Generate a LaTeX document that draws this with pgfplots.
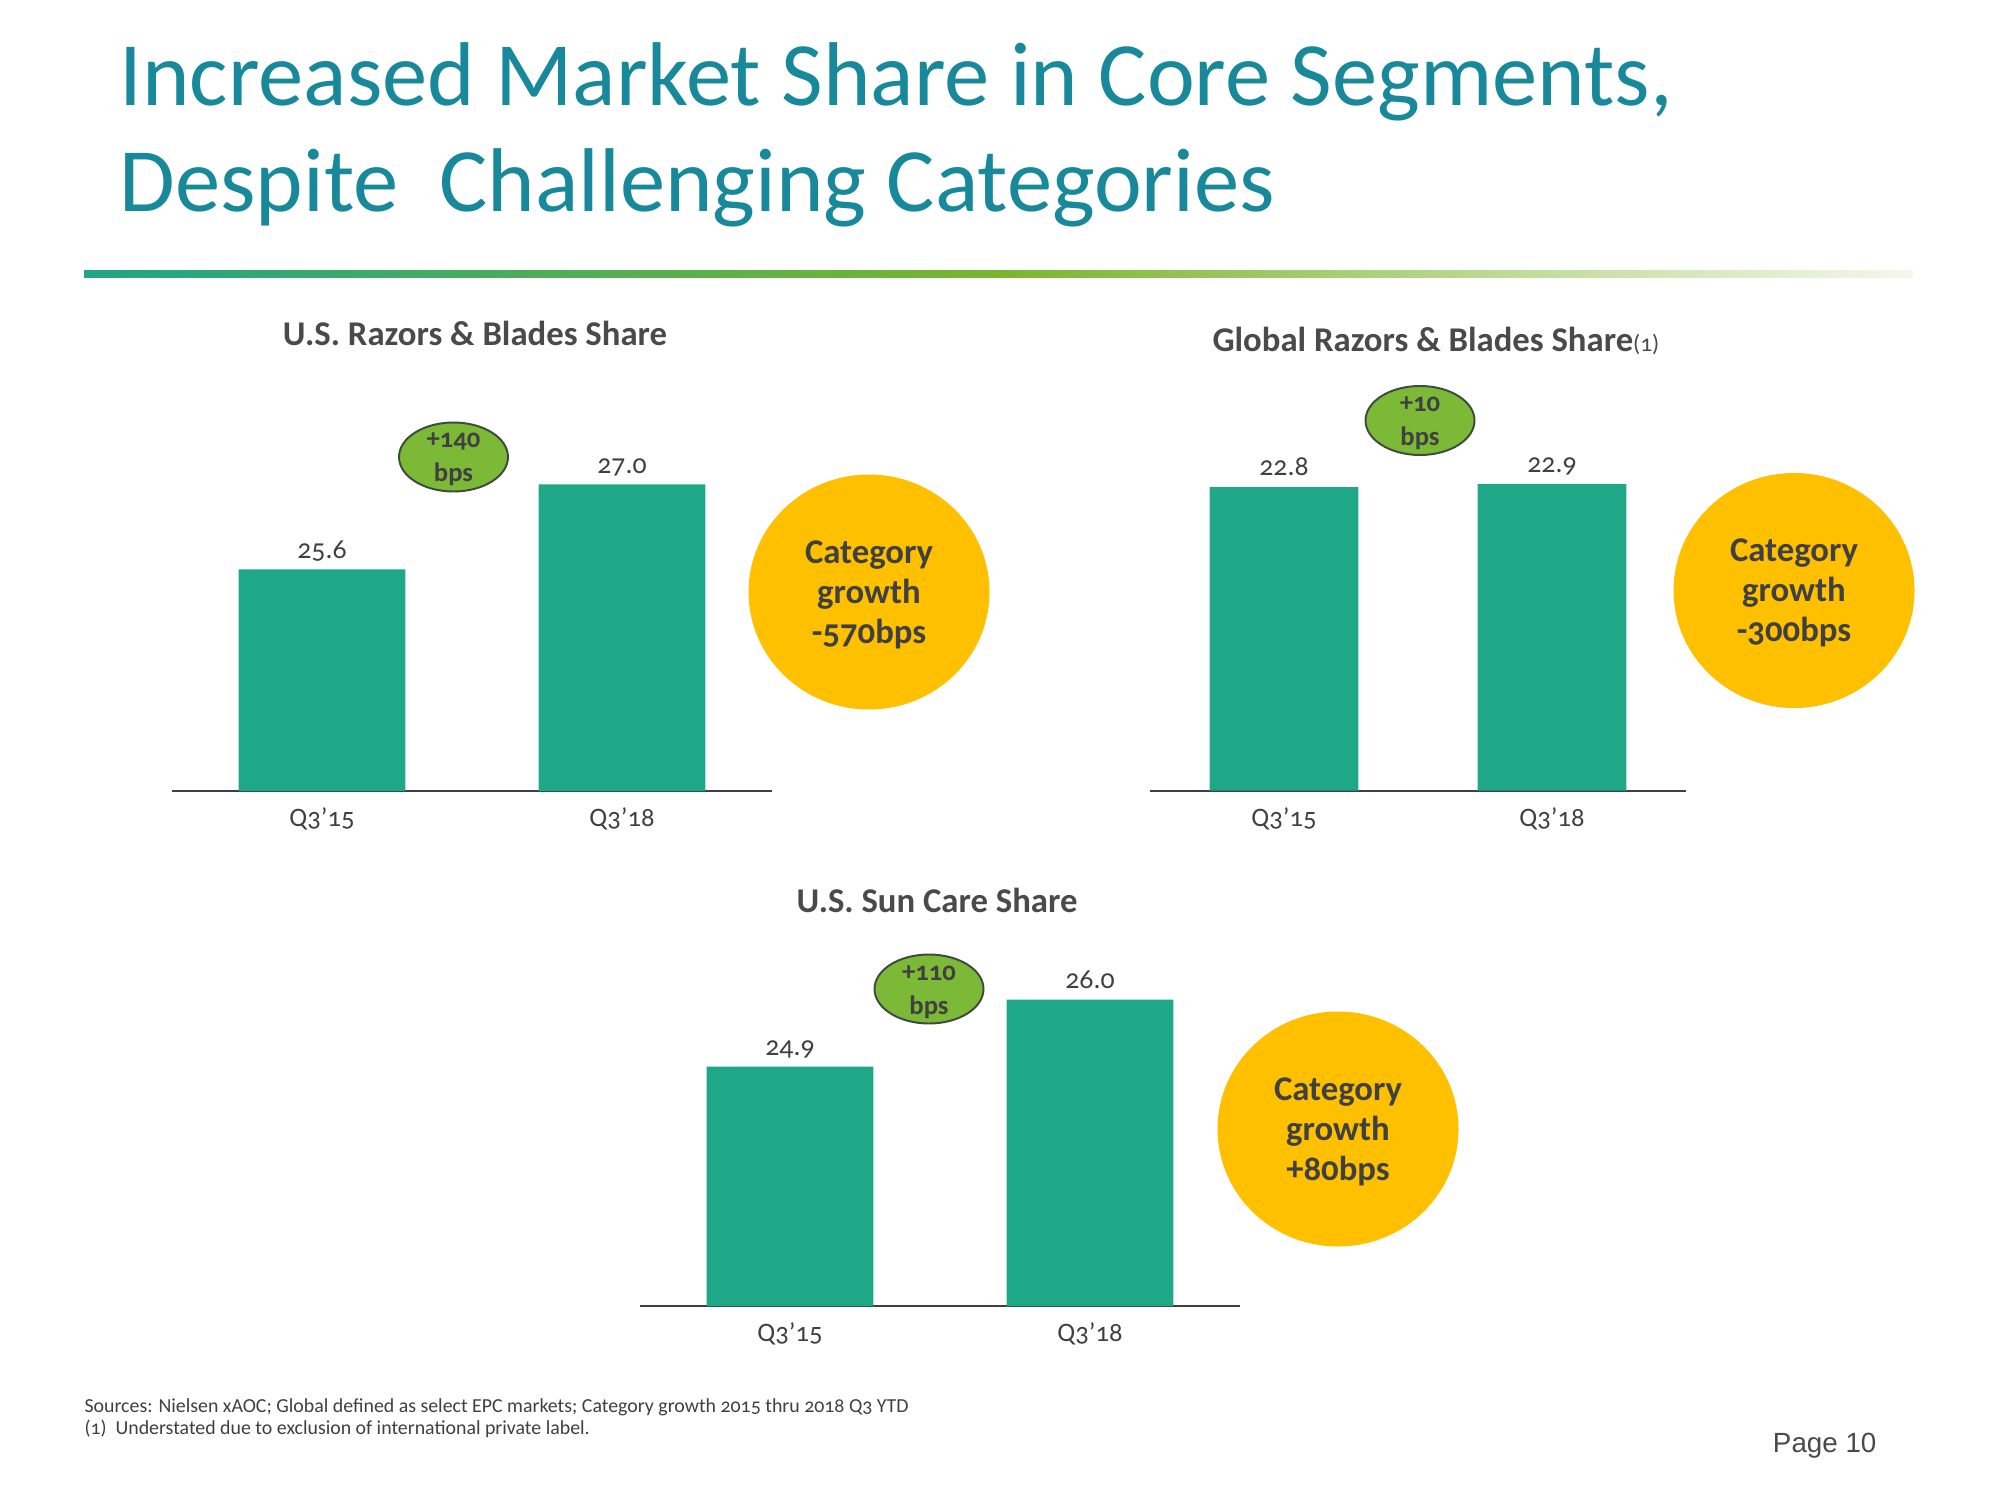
\documentclass[border=0pt]{standalone}
\usepackage{fontspec}
\setmainfont{Carlito}[Numbers=OldStyle]
\newfontfamily\pagefont{Liberation Sans}
\usepackage{pgfplots}
\pgfplotsset{compat=1.18}

\definecolor{titleteal}{HTML}{17899B}
\definecolor{barteal}{HTML}{1FA887}
\definecolor{txtgray}{HTML}{404040}
\definecolor{headgray}{HTML}{4A4A4A}
\definecolor{bubgreen}{HTML}{7CB936}
\definecolor{bubedge}{HTML}{3E4A3C}
\definecolor{gold}{HTML}{FFC000}
\definecolor{linestart}{HTML}{20A585}
\definecolor{linemid}{HTML}{7AB52E}
\definecolor{lineend}{HTML}{F4F8EC}

% one picture pixel = 0.36pt (2000 x 1500 -> 720pt x 540pt)
\pgfplotsset{
  sharebar/.style={
    ybar, scale only axis, anchor=south west,
    xmin=-0.5, xmax=1.5,
    axis x line*=bottom, axis y line=none,
    x axis line style={color=txtgray, line width=0.75pt},
    xtick={0,1}, xticklabels={Q3’15,Q3’18}, ytick=\empty,
    major tick length=0pt,
    xticklabel style={font=\fontsize{9.6}{12}\selectfont, text=txtgray,
      anchor=base, yshift=-12.8pt},
    nodes near coords, point meta=explicit symbolic,
    every node near coord/.append style={font=\fontsize{10}{12}\selectfont,
      text=txtgray, anchor=base, yshift=4pt},
  },
}

\newcommand\bubble[3]{% center x, center y, top line
  \fill[bubgreen, draw=bubedge, line width=0.7pt] (#1,#2) ellipse [x radius=54.5, y radius=34.5];
  \node[anchor=base, text=txtgray, font=\bfseries\fontsize{9.6}{11}\selectfont]
    at (#1,#2+-9) {#3};
  \node[anchor=base, text=txtgray, font=\bfseries\fontsize{9.6}{11}\selectfont]
    at (#1,#2+25) {bps};
}
\newcommand\growth[3]{% center x, center y, value
  \fill[gold] (#1,#2) ellipse [x radius=120.5, y radius=117.5];
  \begin{scope}[every node/.style={anchor=base, text=txtgray,
      font=\bfseries\fontsize{12.5}{15}\selectfont}]
    \node at (#1,#2-29) {Category};
    \node at (#1,#2+11) {growth};
    \node at (#1,#2+51) {#3};
  \end{scope}
}

\begin{document}
\begin{tikzpicture}[x=0.36pt, y=-0.36pt]
\useasboundingbox[fill=white] (0,0) rectangle (2000,1500);

% slide title
\node[anchor=base west, text=titleteal, font=\fontsize{32.6}{38}\selectfont, inner sep=0pt]
  at (119,106) {Increased Market Share in Core Segments,};
\node[anchor=base west, text=titleteal, font=\fontsize{32.6}{38}\selectfont, inner sep=0pt]
  at (119,212) {Despite\ \ Challenging Categories};
\shade[left color=linestart, right color=lineend, middle color=linemid]
  (84,270.5) rectangle (1913,277.5);

% chart titles
\begin{scope}[every node/.style={text=headgray, inner sep=0pt,
    font=\bfseries\fontsize{12.5}{15}\selectfont}]
  \node[anchor=base] at (475,346) {U.S. Razors \& Blades Share};
  \node[anchor=base west] at (1212,352)
    {Global Razors \& Blades Share{\mdseries\fontsize{8.5}{10}\selectfont(1)}};
  \node[anchor=base] at (937,912) {U.S. Sun Care Share};
\end{scope}

% U.S. Razors & Blades (plot area from x=172px, baseline at y=791px)
\begin{axis}[sharebar, at={(61.92pt,-284.76pt)},
    x=108pt, y=21.85pt, ymin=21.95, ymax=28, bar width=60.1pt]
  \addplot[fill=barteal, draw=none] coordinates {(0,25.6) [25.6] (1,27.0) [27.0]};
\end{axis}

% Global Razors & Blades (x=1150px, baseline 790.7px)
\begin{axis}[sharebar, at={(414pt,-284.65pt)},
    x=96.48pt, y=11.88pt, ymin=13.6, ymax=24.6, bar width=53.6pt]
  \addplot[fill=barteal, draw=none] coordinates {(0,22.8) [22.8] (1,22.9) [22.9]};
\end{axis}

% U.S. Sun Care (x=640px, baseline 1306px)
\begin{axis}[sharebar, at={(230.4pt,-470.16pt)},
    x=108pt, y=21.92pt, ymin=20.97, ymax=27, bar width=60.1pt]
  \addplot[fill=barteal, draw=none] coordinates {(0,24.9) [24.9] (1,26.0) [26.0]};
\end{axis}

% share change bubbles and category growth circles
\bubble{453.5}{457}{+140}
\bubble{1420}{420.5}{+10}
\bubble{929}{989}{+110}
\growth{869}{592}{-570bps}
\growth{1794}{590.5}{-300bps}
\growth{1338}{1129}{+80bps}

% footer
\begin{scope}[every node/.style={anchor=base west, inner sep=0pt, text=txtgray,
    font=\fontsize{7.15}{8}\selectfont}]
  \node at (84,1412) {Sources: Nielsen xAOC; Global defined as select EPC markets; Category growth 2015 thru 2018 Q3 YTD};
  \node at (84,1434) {(1)\ \ Understated due to exclusion of international private label.};
\end{scope}
\node[anchor=base east, inner sep=0pt, text=headgray, font=\pagefont\fontsize{10}{12}\selectfont]
  at (1877,1452) {Page 10};
\end{tikzpicture}
\end{document}
